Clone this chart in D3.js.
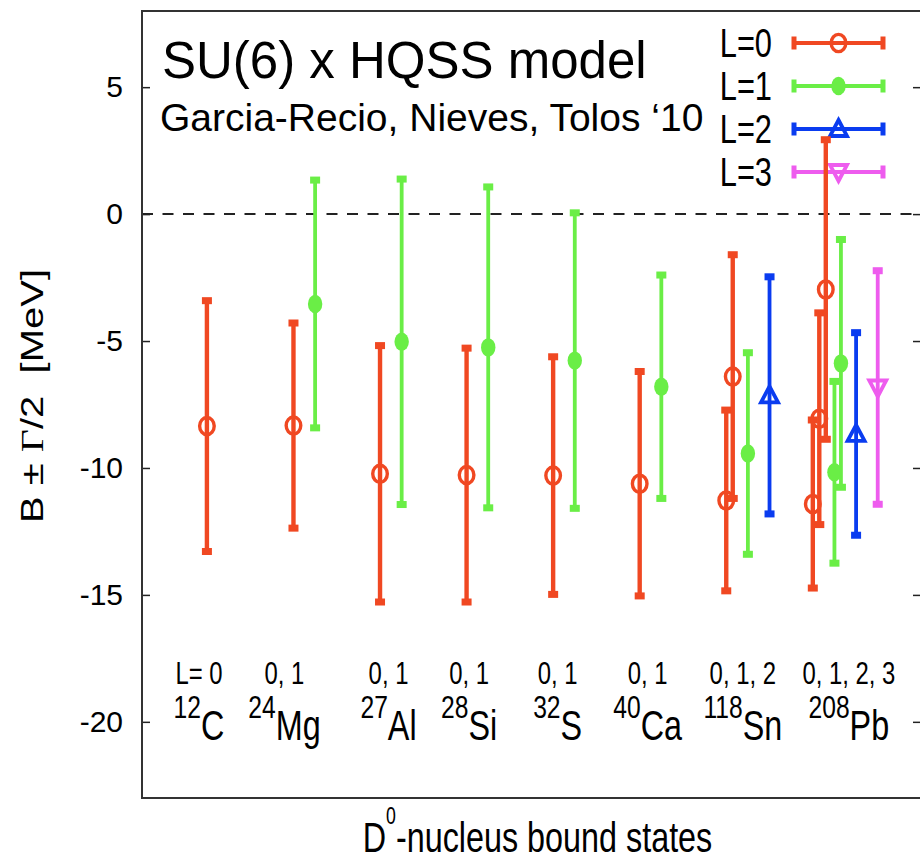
<!DOCTYPE html>
<html>
<head>
<meta charset="utf-8">
<script src="https://cdn.jsdelivr.net/npm/d3@7"></script>
<style>
  body { margin: 0; background: #fff; }
  svg { display: block; }
  text { font-family: "Liberation Sans", Arial, sans-serif; fill: #000; }
</style>
</head>
<body>
<script>
// Nuclei, in plotting order
const nuclei = ["C", "Mg", "Al", "Si", "S", "Ca", "Sn", "Pb"];
const massNumbers = ["12", "24", "27", "28", "32", "40", "118", "208"];
const waveLabels = ["L= 0", "0, 1", "0, 1", "0, 1", "0, 1", "0, 1", "0, 1, 2", "0, 1, 2, 3"];
const yTicks = [5, 0, -5, -10, -15, -20];
const legendLabels = ["L=0", "L=1", "L=2", "L=3"];

// Bound states: [nucleus index, state index within this L, B (MeV), Γ/2 (MeV)]
const statesL0 = [
  [0, 0, -8.35, 4.94], [1, 0, -8.33, 4.04], [2, 0, -10.23, 5.05], [3, 0, -10.28, 5.00],
  [4, 0, -10.30, 4.68], [5, 0, -10.62, 4.42], [6, 0, -11.28, 3.56], [6, 1, -6.40, 4.80],
  [7, 0, -11.42, 3.31], [7, 1, -8.06, 4.17], [7, 2, -2.97, 5.90]
];
const statesL1 = [
  [1, 0, -3.54, 4.88], [2, 0, -5.03, 6.41], [3, 0, -5.25, 6.32], [4, 0, -5.77, 5.82],
  [5, 0, -6.80, 4.40], [6, 0, -9.43, 3.97], [7, 0, -10.17, 3.58], [7, 1, -5.88, 4.88]
];
const statesL2 = [[6, 0, -7.14, 4.67], [7, 0, -8.66, 3.99]];
const statesL3 = [[7, 0, -6.83, 4.60]];

// ---- layout ----
const W = 920, H = 862;
const frame = { left: 142, right: 921, top: 11, bottom: 798 };
const NARROW = 0.77;                       // horizontal squeeze used by the plot labels
const labelCenters = [0.908, 1.896, 3.098, 4.029, 5.052, 6.092, 7.191, 8.416];

const series = [
  { L: 0, data: statesL0, color: "#f04822", marker: "circle" },
  { L: 1, data: statesL1, color: "#6aee46", marker: "dot" },
  { L: 2, data: statesL2, color: "#0a3cf0", marker: "up" },
  { L: 3, data: statesL3, color: "#ee5cee", marker: "down" }
];

const svg = d3.select("body").append("svg").attr("width", W).attr("height", H);

const x = d3.scaleLinear().domain([0.25, 9.25]).range([frame.left, frame.right]);
const y = d3.scaleLinear().domain([-23, 8]).range([frame.bottom, frame.top]);

// state position: nucleus slot, shifted by L and by state index
const xPos = (L, d) => x(d[0] + 1 + L * 0.25 + d[1] * 0.075);

// ---- axes ----
const yAxis = svg.append("g")
  .attr("transform", `translate(${frame.left},0)`)
  .call(d3.axisLeft(y).tickValues(yTicks).tickSize(-8).tickPadding(19).tickFormat(d => String(d)));
yAxis.select(".domain").remove();
yAxis.selectAll(".tick line").attr("stroke", "#222").attr("stroke-width", 1.5);
yAxis.selectAll(".tick text").style("font-size", "30px").style("font-family", "Liberation Sans, Arial, sans-serif").attr("fill", "#000");

const yAxisR = svg.append("g")
  .attr("transform", `translate(${frame.right},0)`)
  .call(d3.axisRight(y).tickValues(yTicks).tickSize(-8).tickFormat(""));
yAxisR.select(".domain").remove();
yAxisR.selectAll(".tick line").attr("stroke", "#222").attr("stroke-width", 1.5);

// zero line
svg.append("line")
  .attr("x1", frame.left).attr("x2", frame.right)
  .attr("y1", y(0)).attr("y2", y(0))
  .attr("stroke", "#222").attr("stroke-width", 2)
  .attr("stroke-dasharray", "11,9.5");

// frame
svg.append("rect")
  .attr("x", frame.left).attr("y", frame.top)
  .attr("width", frame.right - frame.left).attr("height", frame.bottom - frame.top)
  .attr("fill", "none").attr("stroke", "#333").attr("stroke-width", 2);

// ---- markers ----
function drawMarker(g, type, color, cx, cy) {
  if (type === "circle") {
    g.append("ellipse").attr("cx", cx).attr("cy", cy).attr("rx", 7.3).attr("ry", 8.6)
      .attr("fill", "none").attr("stroke", color).attr("stroke-width", 3.4);
  } else if (type === "dot") {
    g.append("ellipse").attr("cx", cx).attr("cy", cy).attr("rx", 7.2).attr("ry", 9.2)
      .attr("fill", color);
  } else if (type === "up") {
    g.append("path").attr("d", `M${cx},${cy - 9} L${cx + 8.5},${cy + 7} L${cx - 8.5},${cy + 7} Z`)
      .attr("fill", "none").attr("stroke", color).attr("stroke-width", 3.8).attr("stroke-linejoin", "miter");
  } else {
    g.append("path").attr("d", `M${cx},${cy + 9} L${cx + 8.5},${cy - 7} L${cx - 8.5},${cy - 7} Z`)
      .attr("fill", "none").attr("stroke", color).attr("stroke-width", 3.8).attr("stroke-linejoin", "miter");
  }
}

// ---- legend ----
const legend = svg.append("g");
const legendRow = i => 43 + i * 43;
const legendX0 = 794, legendX1 = 883, legendMid = 838.5;
series.forEach((s, i) => {
  const ry = legendRow(i);
  legend.append("g")
    .attr("transform", `translate(772,${ry + 14}) scale(${NARROW},1)`)
    .append("text").attr("text-anchor", "end").style("font-size", "40px").text(legendLabels[i]);
  legend.append("line").attr("x1", legendX0).attr("x2", legendX1).attr("y1", ry).attr("y2", ry)
    .attr("stroke", s.color).attr("stroke-width", 4);
  [legendX0, legendX1].forEach(ex => legend.append("rect")
    .attr("x", ex - 2.5).attr("y", ry - 6.5).attr("width", 5).attr("height", 13).attr("fill", s.color));
  drawMarker(legend, s.marker, s.color, legendMid, ry);
});

// ---- error bars ----
const plot = svg.append("g");
series.forEach(s => {
  const g = plot.append("g");
  s.data.forEach(d => {
    const cx = xPos(s.L, d);
    const yTop = y(d[2] + d[3]), yBot = y(d[2] - d[3]);
    g.append("line").attr("x1", cx).attr("x2", cx).attr("y1", yTop).attr("y2", yBot)
      .attr("stroke", s.color).attr("stroke-width", s.L === 0 ? 4.4 : 3.8);
    [yTop, yBot].forEach(ey => g.append("rect")
      .attr("x", cx - 5).attr("y", ey - 3.5).attr("width", 10).attr("height", 7).attr("fill", s.color));
    drawMarker(g, s.marker, s.color, cx, y(d[2]));
  });
});

// ---- nucleus labels ----
nuclei.forEach((n, i) => {
  const cx = x(labelCenters[i]);
  svg.append("g").attr("transform", `translate(${cx},684) scale(${NARROW},1)`)
    .append("text").attr("text-anchor", "middle").style("font-size", "31px").text(waveLabels[i]);
  const t = svg.append("g").attr("transform", `translate(${cx},740) scale(${NARROW},1)`)
    .append("text").attr("text-anchor", "middle");
  t.append("tspan").style("font-size", "32px").attr("dy", -22).text(massNumbers[i]);
  t.append("tspan").style("font-size", "42px").attr("dy", 22).text(n);
});

// ---- titles ----
const xt = svg.append("g").attr("transform", `translate(${(frame.left + frame.right) / 2 + 6},852) scale(${NARROW},1)`)
  .append("text").attr("text-anchor", "middle").style("font-size", "42px");
xt.append("tspan").text("D");
xt.append("tspan").style("font-size", "23px").attr("dy", -28).text("0");
xt.append("tspan").attr("dy", 28).text("-nucleus bound states");

const yt = svg.append("g").attr("transform", `translate(43,396) scale(${NARROW},1) rotate(-90)`)
  .append("text").attr("text-anchor", "middle").style("font-size", "40px").style("white-space", "pre");
yt.append("tspan").text("B ± ");
yt.append("tspan").style("font-family", "Liberation Serif, serif").text("Γ");
yt.append("tspan").text("/2  [MeV]");

svg.append("text").attr("x", 162).attr("y", 78).style("font-size", "51px").text("SU(6) x HQSS model");
svg.append("text").attr("x", 160).attr("y", 131).style("font-size", "39px").text("Garcia-Recio, Nieves, Tolos \u201810");
</script>
</body>
</html>
